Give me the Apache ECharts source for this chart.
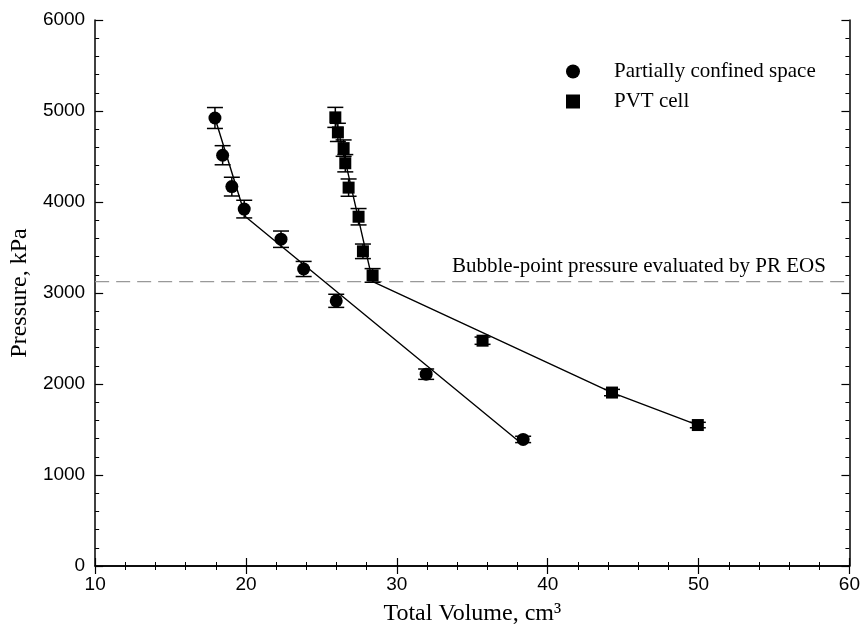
<!DOCTYPE html>
<html>
<head>
<meta charset="utf-8">
<script src="https://cdn.jsdelivr.net/npm/echarts@6/dist/echarts.min.js"></script>
<style>html,body{margin:0;padding:0;background:#fff}#c{width:863px;height:632px}</style>
</head>
<body>
<div id="c"></div>
<script>
// ---- data ----
const circleVol = [17.94, 18.45, 19.06, 19.88, 22.32, 23.82, 25.98, 31.94, 38.37];
const circleP   = [4923, 4514, 4169, 3922, 3591, 3264, 2914, 2108, 1391];
const circleErr = [115, 105, 103, 97, 90, 83, 72, 57, 35];

const squareVol = [25.92, 26.09, 26.47, 26.58, 26.8, 27.46, 27.75, 28.39, 35.68, 44.26, 49.95];
const squareP   = [4930, 4765, 4592, 4426, 4158, 3838, 3458, 3193, 2476, 1906, 1549];
const squareErr = [110, 100, 90, 95, 95, 90, 80, 75, 40, 35, 30];

const circleFitVol = [17.94, 19.97, 38.3];
const circleFitP   = [4923, 3838, 1340];
const squareFitVol = [25.92, 28.4, 44.26, 49.95];
const squareFitP   = [4930, 3125, 1906, 1549];

const bubblePoint = 3125;
const xRange = [10, 60];
const yRange = [0, 6000];

const seriesNames = ['Partially confined space', 'PVT cell'];
const bubbleLabel = 'Bubble-point pressure evaluated by PR EOS';
const xTitle = 'Total Volume, cm\u00B3';
const yTitle = 'Pressure, kPa';

// ---- chart ----
const zip = (a, b, c) => a.map((v, i) => c ? [v, b[i], c[i]] : [v, b[i]]);
const serif = 'Liberation Serif';
const sans = 'Liberation Sans';

function errRender(params, api) {
  const x = api.value(0), y = api.value(1), e = api.value(2);
  const top = api.coord([x, y + e]);
  const bot = api.coord([x, y - e]);
  const hw = 8;
  const st = { stroke: '#000', lineWidth: 1.5 };
  return {
    type: 'group',
    children: [
      { type: 'line', shape: { x1: top[0], y1: top[1], x2: bot[0], y2: bot[1] }, style: st },
      { type: 'line', shape: { x1: top[0] - hw, y1: top[1], x2: top[0] + hw, y2: top[1] }, style: st },
      { type: 'line', shape: { x1: bot[0] - hw, y1: bot[1], x2: bot[0] + hw, y2: bot[1] }, style: st }
    ]
  };
}

const axisCommon = {
  axisLine: { show: true, lineStyle: { color: '#000', width: 1.5 } },
  axisTick: { show: true, inside: true, length: 8, lineStyle: { color: '#000', width: 1.2 } },
  minorTick: { show: true, splitNumber: 5, length: 4, lineStyle: { color: '#000', width: 1 } },
  splitLine: { show: false }
};

const chart = echarts.init(document.getElementById('c'));
chart.setOption({
  animation: false,
  backgroundColor: '#fff',
  grid: { left: 95, right: 11, top: 20, bottom: 66 },
  legend: {
    orient: 'vertical',
    left: 561,
    top: 56,
    itemGap: 9,
    itemWidth: 14,
    itemHeight: 14,
    data: [
      { name: seriesNames[0], icon: 'circle' },
      { name: seriesNames[1], icon: 'rect' }
    ],
    textStyle: { fontFamily: serif, fontSize: 21, color: '#000', padding: [0, 0, 0, 29] }
  },
  xAxis: [
    Object.assign({
      type: 'value', min: xRange[0], max: xRange[1], interval: 10, position: 'bottom',
      name: xTitle, nameLocation: 'middle', nameGap: 36,
      nameTextStyle: { fontFamily: serif, fontSize: 24, color: '#000' },
      axisLabel: { fontFamily: sans, fontSize: 19, color: '#000', margin: 9 }
    }, axisCommon),
    Object.assign({
      type: 'value', min: xRange[0], max: xRange[1], interval: 10, position: 'top',
      axisLabel: { show: false }
    }, axisCommon)
  ],
  yAxis: [
    Object.assign({
      type: 'value', min: yRange[0], max: yRange[1], interval: 1000, position: 'left',
      name: yTitle, nameLocation: 'middle', nameGap: 62,
      nameTextStyle: { fontFamily: serif, fontSize: 24, color: '#000' },
      axisLabel: { fontFamily: sans, fontSize: 19, color: '#000', margin: 10, formatter: v => String(v) }
    }, axisCommon),
    Object.assign({
      type: 'value', min: yRange[0], max: yRange[1], interval: 1000, position: 'right',
      axisLabel: { show: false }
    }, axisCommon)
  ],
  series: [
    {
      type: 'line', silent: true, symbol: 'none',
      data: [[xRange[0], bubblePoint], [xRange[1], bubblePoint]],
      lineStyle: { color: '#999', width: 1.3, type: [14, 7] },
      z: 1
    },
    {
      type: 'line', silent: true, symbol: 'none',
      data: zip(circleFitVol, circleFitP),
      lineStyle: { color: '#000', width: 1.4 }, z: 2
    },
    {
      type: 'line', silent: true, symbol: 'none',
      data: zip(squareFitVol, squareFitP),
      lineStyle: { color: '#000', width: 1.4 }, z: 2
    },
    {
      type: 'custom', renderItem: errRender, data: zip(circleVol, circleP, circleErr), z: 3
    },
    {
      type: 'custom', renderItem: errRender, data: zip(squareVol, squareP, squareErr), z: 3
    },
    {
      name: seriesNames[0], type: 'scatter', symbol: 'circle', symbolSize: 13,
      itemStyle: { color: '#000', opacity: 1 }, data: zip(circleVol, circleP), z: 4
    },
    {
      name: seriesNames[1], type: 'scatter', symbol: 'rect', symbolSize: 12,
      itemStyle: { color: '#000', opacity: 1 }, data: zip(squareVol, squareP), z: 4
    }
  ],
  graphic: [
    {
      type: 'text', left: 452, top: 256,
      style: { text: bubbleLabel, fontFamily: serif, fontSize: 21, fill: '#000' }
    }
  ]
});
</script>
</body>
</html>
